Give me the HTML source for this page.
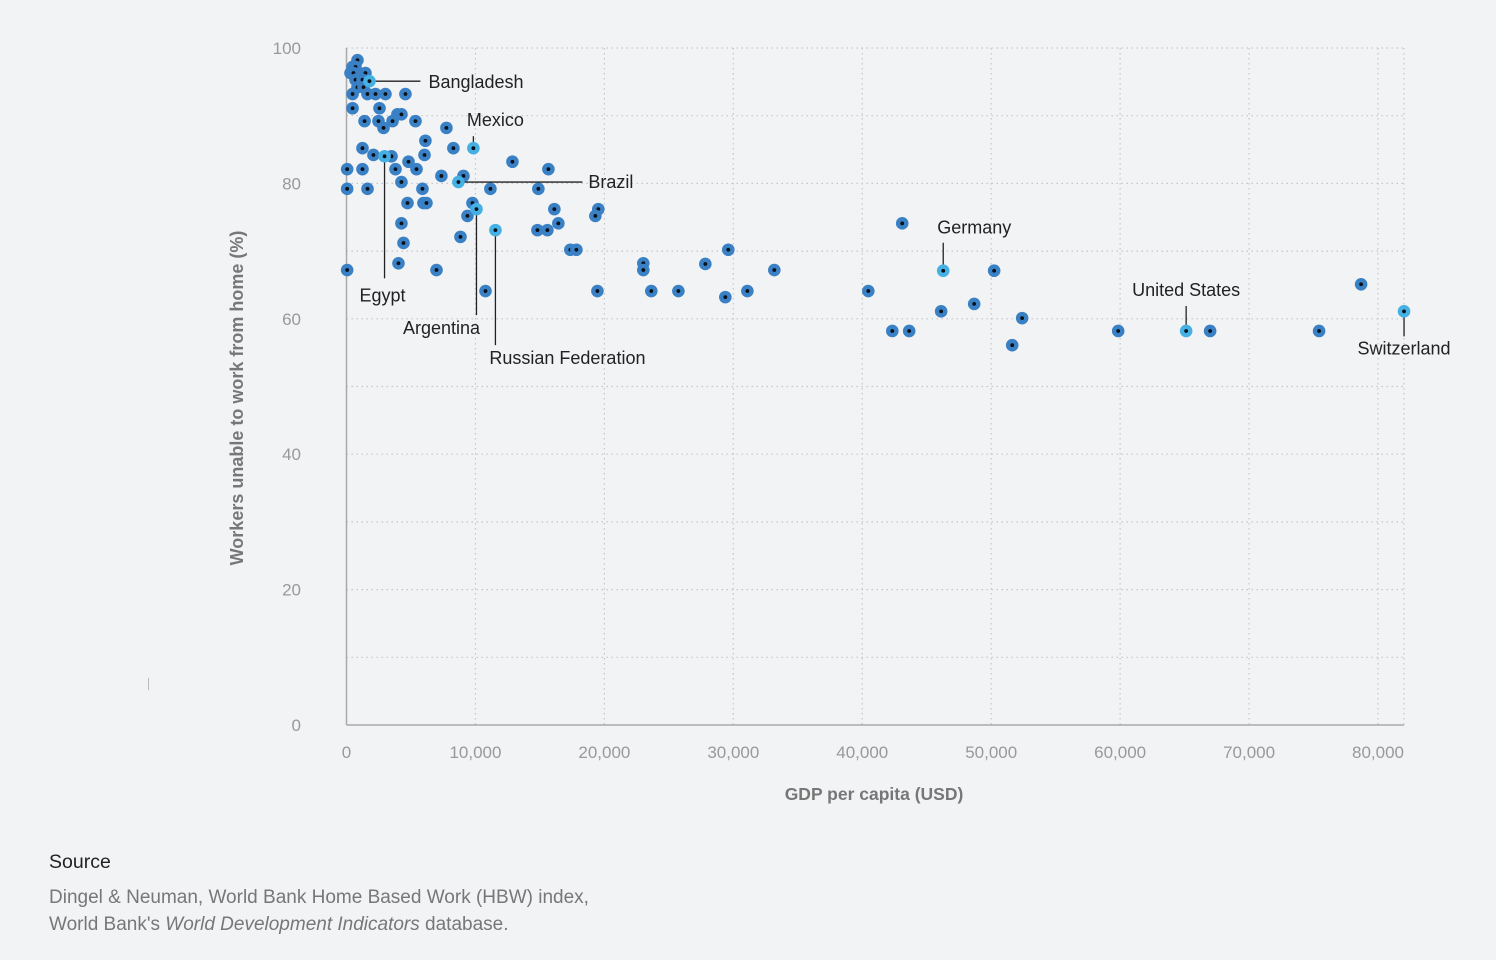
<!DOCTYPE html>
<html><head><meta charset="utf-8">
<style>
html,body{margin:0;padding:0;background:#f2f3f5;}
body{width:1496px;height:960px;overflow:hidden;position:relative;font-family:"Liberation Sans",sans-serif;}
svg{position:absolute;left:0;top:0;}
.src{position:absolute;left:49px;color:#333;}
</style></head>
<body>
<svg id="chart" width="1496" height="960"></svg>
<div class="src" style="top:851px;font-size:19.5px;color:#222">Source</div>
<div class="src" style="top:884px;font-size:19px;color:#777;line-height:27px">Dingel &amp; Neuman, World Bank Home Based Work (HBW) index,<br>World Bank's <i>World Development Indicators</i> database.</div>
<script>
const xTicks=[0,10000,20000,30000,40000,50000,60000,70000,80000];
const xTickLabels=["0","10,000","20,000","30,000","40,000","50,000","60,000","70,000","80,000"];
const yTicks=[0,20,40,60,80,100];
const yTickLabels=["0","20","40","60","80","100"];
const yGrid=[10,20,30,40,50,60,70,80,90,100];
const gdp=[850,470,700,310,540,1470,700,1240,850,1320,470,1630,2250,3020,4570,470,2560,1400,2480,3570,3950,4260,5350,2870,7750,6120,1240,8290,2090,3490,6050,50,1240,3800,4810,5430,12870,15660,7360,9070,4260,50,1630,5890,11160,14880,4730,5970,6200,9770,9380,16120,19530,19300,4260,16430,4420,8840,14810,15580,17360,17830,50,4030,6980,10780,19460,23020,23020,23640,25740,27830,29610,29380,31090,33180,40470,42330,43100,43640,46120,48680,50230,51630,52400,59850,66980,75430,78690];
const pct=[98.2,97.2,97.2,96.3,96.3,96.3,95.3,95.3,94.2,94.2,93.2,93.2,93.2,93.2,93.2,91.1,91.1,89.2,89.2,89.2,90.2,90.2,89.2,88.2,88.2,86.3,85.2,85.2,84.2,84.0,84.2,82.1,82.1,82.1,83.2,82.1,83.2,82.1,81.1,81.1,80.2,79.2,79.2,79.2,79.2,79.2,77.1,77.1,77.1,77.1,75.2,76.2,76.2,75.2,74.1,74.1,71.2,72.1,73.1,73.1,70.2,70.2,67.2,68.2,67.2,64.1,64.1,68.2,67.2,64.1,64.1,68.1,70.2,63.2,64.1,67.2,64.1,58.2,74.1,58.2,61.1,62.2,67.1,56.1,60.1,58.2,58.2,58.2,65.1];
const hlNames=["Bangladesh","Mexico","Egypt","Brazil","Argentina","Russian Federation","Germany","United States","Switzerland"];
const hlGdp=[1780,9840,2950,8680,10080,11550,46280,65120,82020];
const hlPct=[95.1,85.2,84.0,80.2,76.2,73.1,67.1,58.2,61.1];

const X0=346.5,XS=1031.5/80000,Y0=725,YS=677/100;
const sx=v=>X0+v*XS, sy=v=>Y0-v*YS;
const NS="http://www.w3.org/2000/svg";
const svg=document.getElementById('chart');
function mk(t,a,p){const e=document.createElementNS(NS,t);for(const k in a)e.setAttribute(k,a[k]);(p||svg).appendChild(e);return e;}

const grid=mk('g',{});


yGrid.forEach(v=>{mk('line',{x1:X0,x2:1404,y1:sy(v),y2:sy(v),stroke:'#c4c6ca','stroke-width':1.2,'stroke-dasharray':'1.5 3.5'},grid);});
xTicks.slice(1).forEach(v=>{mk('line',{x1:sx(v),x2:sx(v),y1:48,y2:725,stroke:'#c4c6ca','stroke-width':1.2,'stroke-dasharray':'1.5 3.5'},grid);});
mk('line',{x1:1404,x2:1404,y1:48,y2:725,stroke:'#c4c6ca','stroke-width':1.2,'stroke-dasharray':'1.5 3.5'},grid);
const ya=mk('line',{x1:X0,x2:X0,y1:48,y2:725,stroke:'#aaa','stroke-width':1.5});


const xa=mk('line',{x1:X0,x2:1404,y1:725,y2:725,stroke:'#aaa','stroke-width':1.5});


mk('line',{x1:148.5,x2:148.5,y1:678,y2:690,stroke:'#bbb','stroke-width':1});

yTicks.forEach((v,i)=>{const t=mk('text',{x:301,y:sy(v)+6,'text-anchor':'end','font-size':17,fill:'#999'});t.textContent=yTickLabels[i];

});
xTicks.forEach((v,i)=>{const t=mk('text',{x:sx(v),y:758,'text-anchor':'middle','font-size':17,fill:'#999'});t.textContent=xTickLabels[i];

});
const xt=mk('text',{x:874,y:800,'text-anchor':'middle','font-size':17.5,'font-weight':'bold',fill:'#777'});xt.textContent='GDP per capita (USD)';


const yt=mk('text',{x:0,y:0,'text-anchor':'middle','font-size':18,'font-weight':'bold',fill:'#777',transform:'translate(243,398) rotate(-90)'});yt.textContent='Workers unable to work from home (%)';



const ann=[
 {l:[0,0,51,0],t:[59,7,'start']},
 {l:[0,-12,0,0],t:[22,-22,'middle']},
 {l:[0,0,0,122],t:[-2,145,'middle']},
 {l:[0,0,124,0],t:[130,6,'start']},
 {l:[0,0,0,106],t:[-35,125,'middle']},
 {l:[0,0,0,115],t:[72,134,'middle']},
 {l:[0,-28,0,-6],t:[31,-37,'middle']},
 {l:[0,-25,0,-5],t:[0,-35,'middle']},
 {l:[0,5,0,25],t:[0,43,'middle']}
];
const pts=mk('g',{});


gdp.forEach((g,i)=>{const c=mk('circle',{cx:sx(g),cy:sy(pct[i]),r:6.3,fill:'#3a80c4'},pts);


mk('circle',{cx:sx(g),cy:sy(pct[i]),r:1.9,fill:'#0a0f18'},pts);});
hlGdp.forEach((g,i)=>{const x=sx(g),y=sy(hlPct[i]),a=ann[i];
 const ln=mk('line',{x1:x+a.l[0],y1:y+a.l[1],x2:x+a.l[2],y2:y+a.l[3],stroke:'#222','stroke-width':1.3});
 
 
 const c=mk('circle',{cx:x,cy:y,r:6.3,fill:'#45b0e3'});
 
 
 mk('circle',{cx:x,cy:y,r:1.9,fill:'#0a0f18'});
 const t=mk('text',{x:x+a.t[0],y:y+a.t[1],'text-anchor':a.t[2],'font-size':18,fill:'#222'});t.textContent=hlNames[i];
 
 
});
</script>
</body></html>
